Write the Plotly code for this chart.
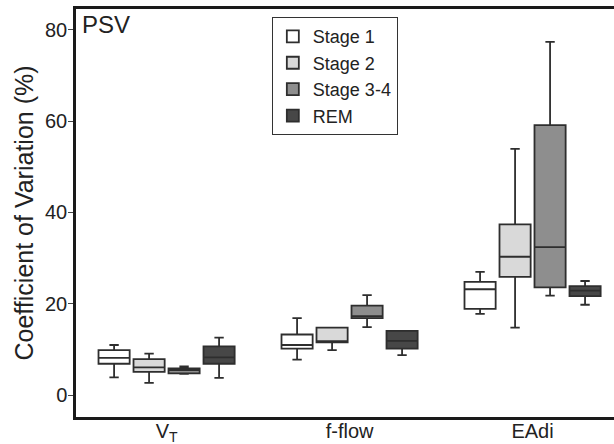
import plotly.graph_objects as go

categories = ["V<sub>T</sub>", "f-flow", "EAdi"]
stage_names = ["Stage 1", "Stage 2", "Stage 3-4", "REM"]

stage1_lower = [3.9, 7.8, 17.8]
stage1_q1 = [6.9, 10.2, 18.9]
stage1_median = [8.2, 11.0, 23.2]
stage1_q3 = [9.9, 13.3, 24.8]
stage1_upper = [11.0, 16.9, 27.0]

stage2_lower = [2.7, 9.9, 14.8]
stage2_q1 = [5.1, 11.6, 25.9]
stage2_median = [6.1, 11.6, 30.3]
stage2_q3 = [7.9, 14.8, 37.4]
stage2_upper = [9.1, 14.8, 53.9]

stage34_lower = [4.7, 14.9, 21.8]
stage34_q1 = [4.8, 16.9, 23.6]
stage34_median = [5.5, 17.3, 32.4]
stage34_q3 = [5.9, 19.6, 59.1]
stage34_upper = [6.3, 21.9, 77.3]

rem_lower = [3.8, 8.8, 19.8]
rem_q1 = [6.9, 10.2, 21.7]
rem_median = [8.3, 11.9, 22.9]
rem_q3 = [10.7, 14.1, 23.9]
rem_upper = [12.6, 14.1, 25.0]

fill_colors = ["#ffffff", "#d9d9d9", "#8e8e8e", "#474747"]
line_color = "#2e2e2e"

series = [
    (stage1_lower, stage1_q1, stage1_median, stage1_q3, stage1_upper),
    (stage2_lower, stage2_q1, stage2_median, stage2_q3, stage2_upper),
    (stage34_lower, stage34_q1, stage34_median, stage34_q3, stage34_upper),
    (rem_lower, rem_q1, rem_median, rem_q3, rem_upper),
]

FONT = "Liberation Sans, Arial, sans-serif"

fig = go.Figure()
for name, color, (lo, q1, med, q3, up) in zip(stage_names, fill_colors, series):
    fig.add_trace(go.Box(
        name=name,
        x=categories,
        lowerfence=lo, q1=q1, median=med, q3=q3, upperfence=up,
        fillcolor=color,
        line=dict(color=line_color, width=1.8),
        whiskerwidth=0.3,
        boxpoints=False,
    ))

fig.update_layout(
    width=614, height=444,
    margin=dict(l=76, r=0, t=9, b=27),
    paper_bgcolor="white", plot_bgcolor="white",
    boxmode="group", boxgap=0.235, boxgroupgap=0.11,
    font=dict(family=FONT, color="#222222"),
    showlegend=True,
    legend=dict(
        x=0.364, y=0.98, xanchor="left", yanchor="top",
        bgcolor="white", bordercolor="#333333", borderwidth=1,
        font=dict(size=18, family=FONT, color="#222222"),
        tracegroupgap=0, itemwidth=30,
    ),
    xaxis=dict(
        type="category", range=[-0.495, 2.445], automargin=False,
        showline=True, linecolor="#1a1a1a", linewidth=2.5, mirror=True,
        ticks="", showgrid=False, zeroline=False,
        tickfont=dict(size=20, family=FONT, color="#222222"),
        ticklabelstandoff=-6,
    ),
    yaxis=dict(
        range=[-4.75, 84.5], automargin=False,
        tickvals=[0, 20, 40, 60, 80],
        showline=True, linecolor="#1a1a1a", linewidth=2.5, mirror=False,
        ticks="outside", ticklen=5, tickcolor="#444444",
        showgrid=False, zeroline=False,
        tickfont=dict(size=20, family=FONT, color="#222222"),
        ticklabelstandoff=-3,
        title=dict(text="Coefficient of Variation (%)", standoff=5,
                   font=dict(size=25, family=FONT, color="#222222")),
    ),
    annotations=[dict(
        text="PSV", xref="paper", yref="paper", x=0.008, y=1.0,
        xanchor="left", yanchor="top", showarrow=False,
        font=dict(size=24, family=FONT, color="#222222"),
    )],
)

fig.write_html("out.html")
